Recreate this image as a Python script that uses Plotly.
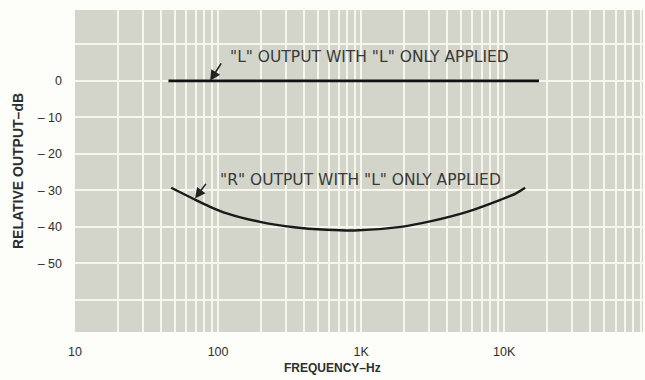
import numpy as np
import plotly.graph_objects as go

# ---- data ----
l_freq = [45, 17500]
l_db = [0, 0]

r_freq = [47, 67, 88, 115, 200, 340, 575, 900, 1900, 3200, 5500, 9400, 12000, 14000]
r_db = [-29.3, -32.3, -34.5, -36.3, -38.7, -40.1, -40.8, -41.0, -40.0, -38.3, -35.9, -32.6, -30.9, -29.3]

x_tick_vals = [10, 100, 1000, 10000]
x_tick_text = ["10", "100", "1K", "10K"]
y_tick_vals = [10, 0, -10, -20, -30, -40, -50, -60]
y_tick_text = ["", "0", "\u2013 10", "\u2013 20", "\u2013 30", "\u2013 40", "\u2013 50", ""]

label_l = '"L" OUTPUT WITH "L" ONLY APPLIED'
label_r = '"R" OUTPUT WITH "L" ONLY APPLIED'

# grid positions for log paper (1..9 per decade)
x_grid = [m * 10 ** d for d in range(1, 5) for m in range(1, 10)]
x_grid_text = [x_tick_text[x_tick_vals.index(v)] if v in x_tick_vals else "" for v in x_grid]

FONT = "Liberation Sans"
WIDE = "DejaVu Sans"
TXT = "#2e2e2e"

fig = go.Figure()
fig.add_trace(go.Scatter(x=l_freq, y=l_db, mode="lines",
                         line=dict(color="#111111", width=2.6), hoverinfo="skip"))
fig.add_trace(go.Scatter(x=r_freq, y=r_db, mode="lines",
                         line=dict(color="#1a1a1a", width=2.4, shape="spline", smoothing=0.8),
                         hoverinfo="skip"))

annotations = [
    dict(x=np.log10(1150), y=6.6, text=label_l, showarrow=False, xanchor="center", yanchor="middle",
         font=dict(family=WIDE, size=15.5, color="#3a3a3a")),
    dict(x=np.log10(985), y=-27.3, text=label_r, showarrow=False, xanchor="center", yanchor="middle",
         font=dict(family=WIDE, size=15.5, color="#3a3a3a")),
    dict(x=np.log10(88), y=0, text="", showarrow=True, ax=12, ay=-19,
         arrowhead=2, arrowsize=1.3, arrowwidth=1.6, arrowcolor="#222222"),
    dict(x=np.log10(69), y=-32.2, text="", showarrow=True, ax=12, ay=-16,
         arrowhead=2, arrowsize=1.3, arrowwidth=1.6, arrowcolor="#222222"),
    dict(xref="paper", yref="paper", x=0.454, y=-0.085, yanchor="top", xanchor="center",
         text="<b>FREQUENCY\u2013Hz</b>", showarrow=False,
         font=dict(family=FONT, size=12, color=TXT)),
]

fig.update_layout(
    width=645, height=380,
    margin=dict(l=75, r=2, t=10, b=48),
    paper_bgcolor="#fdfdfa",
    plot_bgcolor="#d3d5ca",
    showlegend=False,
    annotations=annotations,
    xaxis=dict(type="log", range=[1, 4.97], tickmode="array", tickvals=x_grid, ticktext=x_grid_text,
               showgrid=True, gridcolor="#f6f6ec", gridwidth=2.2, zeroline=False, showline=False,
               ticks="", ticklabelstandoff=10,
               tickfont=dict(family=FONT, size=12.5, color=TXT)),
    yaxis=dict(range=[-68.8, 19.4], tickmode="array", tickvals=y_tick_vals, ticktext=y_tick_text,
               showgrid=True, gridcolor="#f6f6ec", gridwidth=2.2, zeroline=False, showline=False,
               ticks="", ticklabelstandoff=12,
               tickfont=dict(family=FONT, size=12.5, color=TXT),
               title=dict(text="<b>RELATIVE OUTPUT\u2013dB</b>", standoff=10,
                          font=dict(family=FONT, size=14, color=TXT))),
)

fig.write_html("out.html", config={"displayModeBar": False},
               post_script="document.body.style.margin='0';document.body.style.overflow='hidden';")
